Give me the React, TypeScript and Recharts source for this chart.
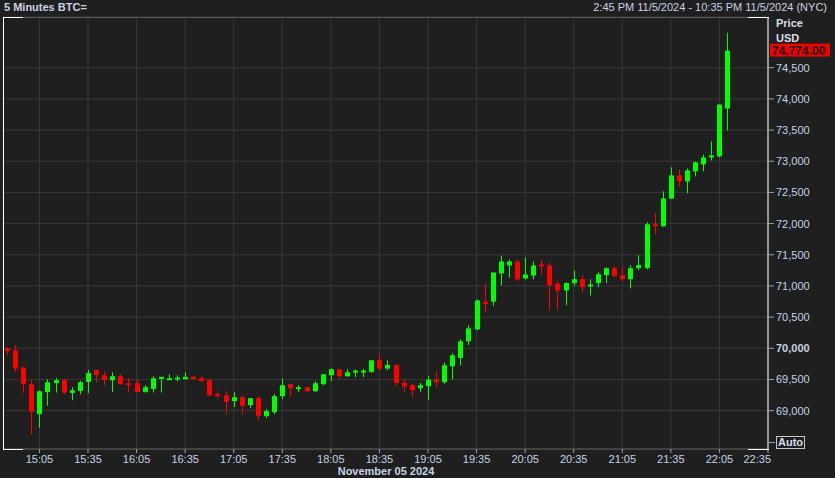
import { ComposedChart, Bar, XAxis, YAxis, CartesianGrid, ReferenceLine, Label } from 'recharts';

// 5 minute candles, 14:45 .. 22:10 (index 0 = 14:45)
const opens = [
  70000, 69968, 69691, 69424, 68944, 69296, 69440, 69488, 69285, 69317,
  69461, 69653, 69568, 69488, 69552, 69440, 69440, 69301, 69349, 69515,
  69504, 69520, 69504, 69541, 69520, 69488, 69264, 69248, 69152, 69216,
  69088, 69200, 68912, 68976, 69232, 69424, 69360, 69376, 69312, 69424,
  69568, 69664, 69552, 69616, 69620, 69622, 69808, 69675, 69733, 69445,
  69413, 69360, 69392, 69499, 69456, 69712, 69845, 70112, 70304, 70747,
  70747, 71200, 71328, 71392, 71120, 71168, 71344, 71328, 71040, 70928,
  71045, 71109, 71000, 71045, 71173, 71285, 71173, 71109, 71285, 71285,
  71989, 71957, 72400, 72773, 72677, 72837, 72949, 73061, 73077, 73845,
];
const highs = [
  70020, 70048, 69700, 69488, 69320, 69504, 69525, 69515, 69376, 69477,
  69653, 69660, 69632, 69616, 69584, 69520, 69504, 69408, 69552, 69545,
  69584, 69570, 69616, 69560, 69552, 69515, 69312, 69312, 69296, 69248,
  69205, 69232, 69024, 69264, 69520, 69430, 69408, 69380, 69472, 69590,
  69680, 69670, 69664, 69660, 69670, 69810, 69899, 69808, 69740, 69509,
  69430, 69445, 69552, 69637, 69776, 69920, 70144, 70368, 70784, 71040,
  71216, 71488, 71424, 71424, 71456, 71392, 71424, 71376, 71088, 71060,
  71250, 71173, 71106, 71221, 71301, 71317, 71317, 71333, 71493, 72021,
  72165, 72517, 72901, 72869, 72885, 72997, 73109, 73317, 73915, 75061,
];
const lows = [
  69900, 69621, 69285, 68624, 68725, 69077, 69291, 69264, 69168, 69264,
  69285, 69456, 69408, 69301, 69420, 69291, 69295, 69285, 69291, 69291,
  69500, 69470, 69500, 69500, 69461, 69227, 69211, 68944, 69056, 68944,
  69040, 68837, 68880, 68944, 69184, 69216, 69296, 69296, 69296, 69408,
  69472, 69504, 69540, 69536, 69536, 69605, 69648, 69648, 69397, 69301,
  69216, 69301, 69173, 69376, 69430, 69499, 69728, 70053, 70288, 70576,
  70677, 71008, 71136, 71072, 71104, 71104, 71184, 70608, 70608, 70690,
  71000, 70901, 70848, 70981, 71045, 71150, 71077, 70960, 71253, 71269,
  71829, 71950, 72395, 72597, 72485, 72757, 72837, 73013, 73061, 73493,
];
const closes = [
  69955, 69675, 69429, 68981, 69312, 69456, 69488, 69291, 69328, 69456,
  69605, 69573, 69493, 69552, 69424, 69424, 69301, 69376, 69520, 69541,
  69520, 69530, 69541, 69515, 69477, 69248, 69232, 69141, 69216, 69077,
  69200, 68917, 68992, 69232, 69408, 69360, 69376, 69312, 69440, 69584,
  69664, 69552, 69616, 69642, 69642, 69808, 69675, 69733, 69445, 69387,
  69328, 69408, 69499, 69456, 69728, 69888, 70112, 70320, 70768, 70709,
  71216, 71392, 71392, 71104, 71184, 71328, 71312, 71008, 70928, 71045,
  71109, 70981, 71024, 71189, 71285, 71157, 71109, 71285, 71333, 71989,
  71957, 72405, 72773, 72677, 72853, 72981, 73061, 73093, 73909, 74774,
];

const tickIndex = [4, 10, 16, 22, 28, 34, 40, 46, 52, 58, 64, 70, 76, 82, 88, 94];
const tickLabels = [
  '15:05', '15:35', '16:05', '16:35', '17:05', '17:35', '18:05', '18:35',
  '19:05', '19:35', '20:05', '20:35', '21:05', '21:35', '22:05', '22:35',
];
const priceTicks = [69000, 69500, 70000, 70500, 71000, 71500, 72000, 72500, 73000, 73500, 74000, 74500];
const lastPrice = 74774;

const data = opens.map((o, i) => ({
  i,
  open: o,
  high: highs[i],
  low: lows[i],
  close: closes[i],
  range: [lows[i], highs[i]],
}));

const GREEN = '#00ff00';
const RED = '#ff0000';
const TXT = '#c8d2e2';
const FONT = '"Liberation Sans", Arial, sans-serif';

const Candle = (props: any) => {
  const { x, y, width, height, payload } = props;
  if (!payload) return null;
  const { open, close, high, low } = payload;
  const color = close >= open ? GREEN : RED;
  const top = Math.min(y, y + height);
  const h = Math.abs(height);
  const k = h / (high - low);
  const bTop = top + (high - Math.max(open, close)) * k;
  const bBot = top + (high - Math.min(open, close)) * k;
  const center = x + width / 2;
  const bx = Math.round(center - 2.5);
  return (
    <g>
      <rect x={bx + 2} y={top} width={1} height={h} fill={color} />
      <rect x={bx} y={bTop} width={5} height={Math.max(2, bBot - bTop)} fill={color} />
    </g>
  );
};

const XTick = ({ x, y, payload }: any) => {
  const idx = tickIndex.indexOf(payload.value);
  const last = idx === tickIndex.length - 1;
  return (
    <text x={last ? x + 3 : x} y={y} dy="0.71em" textAnchor={last ? 'end' : 'middle'}
      fill={TXT} fontSize={11} fontFamily={FONT}>
      {tickLabels[idx]}
    </text>
  );
};

const YTick = ({ x, y, payload }: any) => (
  <text x={x} y={y} dy="0.36em" textAnchor="start" fill={TXT} fontSize={11}
    fontFamily={FONT} fontWeight={payload.value === 70000 ? 'bold' : 'normal'}>
    {payload.value.toLocaleString('en-US')}
  </text>
);

const PriceTag = (props: any) => {
  const vb = props.viewBox;
  if (!vb) return null;
  const lx = vb.x + vb.width + 2;
  return (
    <g>
      <rect x={lx} y={vb.y - 7} width={60} height={13} fill="#ee0000" />
      <text x={lx + 2} y={vb.y} dy="0.36em" fill="#1a0505" fontSize={12} fontWeight="bold" fontFamily={FONT}>
        {lastPrice.toLocaleString('en-US', { minimumFractionDigits: 2 })}
      </text>
    </g>
  );
};

const line = (left: number, top: number, w: number, h: number, bg: string) => (
  <div style={{ position: 'absolute', left, top, width: w, height: h, background: bg }} />
);

export default function App() {
  return (
    <div style={{ position: 'absolute', left: 0, top: 0, width: 835, height: 478, background: '#1f1f1f', fontFamily: FONT, overflow: 'hidden' }}>
      <ComposedChart width={835} height={478} data={data} margin={{ top: 17, right: 0, bottom: 0, left: 3 }}>
        <CartesianGrid stroke="#383838" />
        <XAxis dataKey="i" type="number" domain={[-0.5, 94]} ticks={tickIndex} interval={0}
          allowDataOverflow height={29} tickSize={4} tickMargin={2}
          axisLine={{ stroke: '#5a5a5a' }} tickLine={{ stroke: '#9aa2b0' }} tick={<XTick />} />
        <YAxis orientation="right" width={67} domain={[68385, 75313]} ticks={priceTicks} interval={0}
          allowDataOverflow tickSize={6} tickMargin={2}
          axisLine={{ stroke: '#ffffff' }} tickLine={{ stroke: '#9aa2b0' }} tick={<YTick />} />
        <Bar dataKey="range" barSize={5} shape={<Candle />} isAnimationActive={false} />
        <ReferenceLine y={lastPrice} stroke="none" ifOverflow="visible">
          <Label content={<PriceTag />} />
        </ReferenceLine>
      </ComposedChart>

      {/* frame */}
      {line(3, 17, 765, 1, '#5a5a5a')}
      {line(3, 17, 20, 1, '#ffffff')}
      {line(748, 17, 21, 1, '#ffffff')}
      {line(3, 17, 1, 433, '#ffffff')}
      {line(3, 449, 20, 1, '#ffffff')}
      {line(748, 449, 21, 1, '#ffffff')}
      {line(769, 442, 6, 1, '#9aa2b0')}

      <div style={{ position: 'absolute', left: 4, top: 1, fontSize: 11, fontWeight: 'bold', color: TXT, whiteSpace: 'nowrap' }}>
        5 Minutes BTC=
      </div>
      <div style={{ position: 'absolute', right: 8, top: 1, fontSize: 11, color: TXT, whiteSpace: 'nowrap' }}>
        2:45 PM 11/5/2024 - 10:35 PM 11/5/2024 (NYC)
      </div>
      <div style={{ position: 'absolute', left: 776, top: 17, fontSize: 11, fontWeight: 'bold', color: '#d8dde8' }}>Price</div>
      <div style={{ position: 'absolute', left: 776, top: 32, fontSize: 11, fontWeight: 'bold', color: '#d8dde8' }}>USD</div>
      <div style={{ position: 'absolute', left: 776, top: 436, width: 27, height: 11, border: '1px solid #c8c8c8', fontSize: 11, lineHeight: '11px', fontWeight: 'bold', color: '#d8dde8', textAlign: 'center' }}>
        Auto
      </div>
      <div style={{ position: 'absolute', left: 0, width: 772, top: 466, fontSize: 11, lineHeight: '11px', fontWeight: 'bold', color: TXT, textAlign: 'center' }}>
        November 05 2024
      </div>
    </div>
  );
}
